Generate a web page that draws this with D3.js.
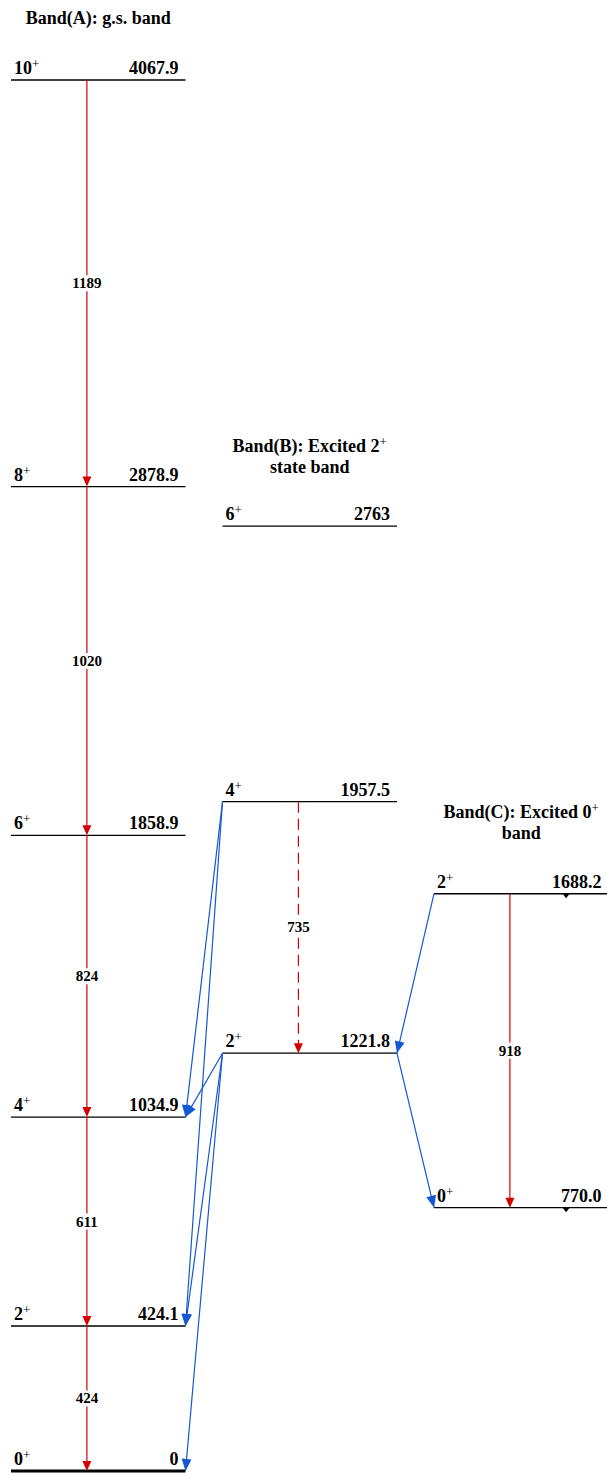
<html>
<head>
    <script src="https://d3js.org/d3.v7.min.js"></script>
    <style>
        body { margin: 0; background: #fff; }
    </style>
</head>
<body>
    <svg id="scheme" width="607" height="1473" font-family="'Liberation Serif', 'Times New Roman', serif" font-weight="bold"></svg>

    <script>
    // bands and their titles
    const bands = ["A", "B", "C"];
    const bandTitle1 = ["Band(A): g.s. band", "Band(B): Excited 2", "Band(C): Excited 0"];
    const bandTitleSup = ["", "+", "+"];
    const bandTitle2 = ["", "state band", "band"];

    // levels
    const levelBand   = ["A", "A", "A", "A", "A", "A", "B", "B", "B", "C", "C"];
    const levelSpin   = ["0", "2", "4", "6", "8", "10", "2", "4", "6", "0", "2"];
    const levelEnergy = [0, 424.1, 1034.9, 1858.9, 2878.9, 4067.9, 1221.8, 1957.5, 2763, 770.0, 1688.2];
    const levelText   = ["0", "424.1", "1034.9", "1858.9", "2878.9", "4067.9", "1221.8", "1957.5", "2763", "770.0", "1688.2"];

    // in-band gamma rays (red)
    const gammaBand   = ["A", "A", "A", "A", "A", "B", "C"];
    const gammaFrom   = [4067.9, 2878.9, 1858.9, 1034.9, 424.1, 1957.5, 1688.2];
    const gammaTo     = [2878.9, 1858.9, 1034.9, 424.1, 0, 1221.8, 770.0];
    const gammaLabel  = ["1189", "1020", "824", "611", "424", "735", "918"];
    const gammaDashed = [false, false, false, false, false, true, false];

    // inter-band links (blue): [band, energy, side]
    const linkFrom = [["B", 1957.5, "left"], ["B", 1957.5, "left"], ["B", 1221.8, "left"], ["B", 1221.8, "left"],
                      ["B", 1221.8, "left"], ["C", 1688.2, "left"], ["B", 1221.8, "right"]];
    const linkTo   = [["A", 1034.9, "right"], ["A", 424.1, "right"], ["A", 1034.9, "right"], ["A", 424.1, "right"],
                      ["A", 0, "right"], ["B", 1221.8, "right"], ["C", 770.0, "left"]];

    // little markers under band C levels
    const markEnergy = [1688.2, 770.0];

    const svg = d3.select("#scheme");
    const red = "#d40000";
    const blue = "#1558d4";

    const x = d3.scaleBand().domain(bands).range([11, 608.5]).paddingInner(0.175).paddingOuter(0);
    const y = d3.scaleLinear().domain([0, 4067.9]).range([1471, 80]);
    const bw = x.bandwidth();
    const gx = b => x(b) + bw * 0.435;
    const endX = (b, side) => side === "left" ? x(b) : x(b) + bw;

    function arrowHead(g, x1, y1, x2, y2, len, half, color) {
        const dx = x2 - x1, dy = y2 - y1, l = Math.hypot(dx, dy);
        const ux = dx / l, uy = dy / l;
        const bx = x2 - ux * len, by = y2 - uy * len;
        g.append("path")
            .attr("d", `M${x2},${y2}L${bx - uy * half},${by + ux * half}L${bx + uy * half},${by - ux * half}Z`)
            .attr("fill", color);
    }

    // titles
    const titleY = { A: 24, B: 452, C: 818 };
    bands.forEach((b, i) => {
        const cx = x(b) + bw / 2;
        const t = svg.append("text").attr("x", cx).attr("y", titleY[b])
            .attr("text-anchor", "middle").attr("font-size", 18);
        t.append("tspan").text(bandTitle1[i]);
        if (bandTitleSup[i]) {
            t.append("tspan").attr("dy", -6).attr("font-size", 13).attr("font-weight", "normal").text(bandTitleSup[i]);
        }
        if (bandTitle2[i]) {
            svg.append("text").attr("x", cx).attr("y", titleY[b] + 21)
                .attr("text-anchor", "middle").attr("font-size", 18).text(bandTitle2[i]);
        }
    });

    // levels
    const lev = svg.append("g");
    levelEnergy.forEach((e, i) => {
        const b = levelBand[i];
        const x0 = x(b), x1 = x(b) + bw;
        lev.append("line").attr("x1", x0).attr("x2", x1).attr("y1", y(e)).attr("y2", y(e))
            .attr("stroke", "#000").attr("stroke-width", e === 0 ? 3 : 1.3);
        const s = lev.append("text").attr("x", x0 + 3).attr("y", y(e) - 6).attr("font-size", 18);
        s.append("tspan").text(levelSpin[i]);
        s.append("tspan").attr("dy", -6).attr("font-size", 13).attr("font-weight", "normal").text("+");
        lev.append("text").attr("x", x1 - 7).attr("y", y(e) - 6).attr("text-anchor", "end")
            .attr("font-size", 18).text(levelText[i]);
    });

    // band C markers
    markEnergy.forEach(e => {
        const mx = x("C") + bw * 0.757, my = y(e);
        svg.append("path").attr("d", `M${mx - 3.5},${my}L${mx + 3.5},${my}L${mx},${my + 4.5}Z`).attr("fill", "#000");
    });

    // inter-band links
    const links = svg.append("g");
    linkFrom.forEach((f, i) => {
        const t = linkTo[i];
        const x1 = endX(f[0], f[2]), y1 = y(f[1]);
        const x2 = endX(t[0], t[2]), y2 = y(t[1]);
        links.append("line").attr("x1", x1).attr("y1", y1).attr("x2", x2).attr("y2", y2)
            .attr("stroke", blue).attr("stroke-width", 1.2);
        arrowHead(links, x1, y1, x2, y2, 12, 5, blue);
    });

    // in-band gammas
    const gam = svg.append("g");
    gammaFrom.forEach((f, i) => {
        const gxv = gx(gammaBand[i]);
        const y1 = y(f), y2 = y(gammaTo[i]);
        gam.append("line").attr("x1", gxv).attr("x2", gxv).attr("y1", y1).attr("y2", y2 - 6)
            .attr("stroke", red).attr("stroke-width", 1.2)
            .attr("stroke-dasharray", gammaDashed[i] ? "11,6" : null);
        arrowHead(gam, gxv, y1, gxv, y2, 10, 4.5, red);
        const my = (y1 + y2) / 2;
        const w = gammaLabel[i].length * 7.5 + 4;
        gam.append("rect").attr("x", gxv - w / 2).attr("y", my - 8).attr("width", w).attr("height", 16).attr("fill", "#fff");
        gam.append("text").attr("x", gxv).attr("y", my + 5).attr("text-anchor", "middle")
            .attr("font-size", 15).text(gammaLabel[i]);
    });
    </script>
</body>
</html>
